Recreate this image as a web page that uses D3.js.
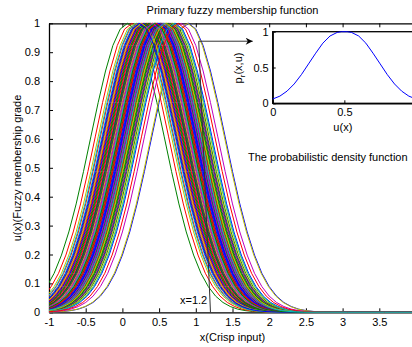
<!DOCTYPE html>
<html><head><meta charset="utf-8">
<script src="https://cdn.jsdelivr.net/npm/d3@7/dist/d3.min.js"></script>
<style>
html,body{margin:0;padding:0;background:#fff;}
svg{display:block;font-family:"Liberation Sans",Arial,sans-serif;}
</style></head>
<body><svg id="c" width="412" height="347"></svg>
<script>
// ---- data ----
// centres of the plotted membership functions (in plotting order)
const centres = [0.90,0.07,0.13,0.42,0.35,0.89,0.28,0.55,0.61,0.47,0.22,0.38,0.17,0.50,
0.66,0.31,0.44,0.58,0.25,0.70,0.52,0.36,0.63,0.20,0.45,0.40,0.57,0.33,0.49,0.68,0.27,
0.54,0.43,0.60,0.37,0.72,0.46,0.30,0.53,0.64,0.39,0.24,0.51,0.59,0.34,0.48,0.80,0.41,
0.56,0.29,0.62,0.45,0.19,0.52,0.67,0.38,0.48,0.32,0.58,0.43,0.55,0.26,0.65,0.50,0.36,
0.47,0.71,0.41,0.60,0.53,0.23,0.44,0.76,0.57];
// membership profile: grade vs distance from centre (symmetric)
const profileDx = [0,0.1,0.2,0.3,0.4,0.5,0.6,0.7,0.8,0.9,1.0,1.1,1.2,1.3,1.4,1.5,1.6,1.7,1.8,1.9,2.0,2.5,3.0,3.5,4.0];
const profileU  = [1,0.98,0.923,0.835,0.726,0.607,0.487,0.375,0.278,0.198,0.135,0.089,0.056,0.034,0.020,0.011,0.006,0.003,0.0016,0.0007,0.0003,0,0,0,0];
const colors = ["#0000ff","#008000","#ff0000","#00bfbf","#bf00bf","#bfbf00","#404040"];
const xTicks = [-1,-0.5,0,0.5,1,1.5,2,2.5,3,3.5,4];
const xTickLabels = ["-1","-0.5","0","0.5","1","1.5","2","2.5","3","3.5",""];
const yTicks = [0,0.1,0.2,0.3,0.4,0.5,0.6,0.7,0.8,0.9,1];
const yTickLabels = ["0","0.1","0.2","0.3","0.4","0.5","0.6","0.7","0.8","0.9","1"];
// inset: probabilistic density function
const insetU = [0,0.05,0.1,0.15,0.2,0.25,0.3,0.35,0.4,0.45,0.48,0.52,0.55,0.6,0.65,0.7,0.75,0.8,0.85,0.9,0.95,1];
const insetP = [0.06,0.10,0.17,0.27,0.40,0.55,0.70,0.84,0.94,0.99,1,1,0.99,0.94,0.84,0.70,0.55,0.40,0.27,0.17,0.10,0.06];
const insetTicks = [0,0.5,1];
const insetXLabels = ["0","0.5",""];
const insetYLabels = ["0","0.5","1"];
const markX = 1.2;
const arrowTop = {x:1.04, y:0.938};

// ---- layout ----
const svg = d3.select("#c");
const font = 11;
const x = d3.scaleLinear().domain([-1,4]).range([49,416]);
const y = d3.scaleLinear().domain([0,1]).range([312.3,23.3]);

svg.append("defs").append("clipPath").attr("id","clip")
  .append("rect").attr("x",49).attr("y",20).attr("width",367).attr("height",293);

const lab = (ticks, labels) => d => labels[ticks.indexOf(d)];

// axes box
const ax = svg.append("g");
const xAxB = ax.append("g").attr("transform","translate(0,312.3)")
  .call(d3.axisBottom(x).tickValues(xTicks).tickSizeInner(-4).tickSizeOuter(0).tickPadding(7).tickFormat(lab(xTicks,xTickLabels)));
const xAxT = ax.append("g").attr("transform","translate(0,23.3)")
  .call(d3.axisTop(x).tickValues(xTicks).tickSizeInner(-4).tickSizeOuter(0).tickFormat(""));
const yAxL = ax.append("g").attr("transform","translate(49,0)")
  .call(d3.axisLeft(y).tickValues(yTicks).tickSizeInner(-4).tickSizeOuter(0).tickPadding(9).tickFormat(lab(yTicks,yTickLabels)));
[xAxB,xAxT,yAxL].forEach(g=>{
  g.selectAll("path.domain").attr("stroke","#000").attr("stroke-width",1.3);
  g.selectAll(".tick line").attr("stroke","#000");
  g.selectAll("text").attr("font-size",font).attr("fill","#000").attr("font-family",'"Liberation Sans",Arial,sans-serif');
});
xAxB.selectAll("text").attr("dy","0.71em").attr("y",6);

// curves
const line = d3.line().x(d=>x(d[0])).y(d=>y(d[1]));
const cg = svg.append("g").attr("clip-path","url(#clip)");
centres.forEach((c,i)=>{
  const pts = [];
  for(let k=profileDx.length-1;k>0;k--) pts.push([c-profileDx[k],profileU[k]]);
  for(let k=0;k<profileDx.length;k++) pts.push([c+profileDx[k],profileU[k]]);
  cg.append("path").attr("d",line(pts)).attr("fill","none")
    .attr("stroke",colors[i%colors.length]).attr("stroke-width",1);
});

// annotation line & arrow
svg.append("defs").append("marker").attr("id","ah").attr("viewBox","0 0 10 10")
  .attr("refX",10).attr("refY",5).attr("markerWidth",11).attr("markerHeight",7)
  .attr("markerUnits","userSpaceOnUse").attr("orient","auto")
  .append("path").attr("d","M0,0 L10,5 L0,10 L3,5 Z").attr("fill","#000");
const ix = d3.scaleLinear().domain([0,1]).range([272.7,416]);
const iy = d3.scaleLinear().domain([0,1]).range([103.3,31.7]);
svg.append("path")
  .attr("d",`M${x(markX)},${y(0)} L${x(arrowTop.x)},${y(arrowTop.y)} L${ix(0)-20},${y(arrowTop.y)}`)
  .attr("fill","none").attr("stroke","#333").attr("stroke-width",1).attr("marker-end","url(#ah)");
svg.append("text").attr("x",180).attr("y",303.5).attr("font-size",font).text("x=1.2");

// title & labels
svg.append("text").attr("x",232.5).attr("y",14).attr("text-anchor","middle").attr("font-size",font)
  .text("Primary fuzzy membership function");
svg.append("text").attr("x",232.5).attr("y",340.5).attr("text-anchor","middle").attr("font-size",font)
  .text("x(Crisp input)");
svg.append("text").attr("transform","translate(20.5,168) rotate(-90)").attr("text-anchor","middle").attr("font-size",font)
  .text("u(x)(Fuzzy membership grade");

// inset
const ig = svg.append("g");
ig.append("rect").attr("x",ix(0)).attr("y",iy(1)).attr("width",ix(1)-ix(0)).attr("height",iy(0)-iy(1))
  .attr("fill","#fff").attr("stroke","#000").attr("stroke-width",1.3);
const iB = ig.append("g").attr("transform",`translate(0,${iy(0)})`)
  .call(d3.axisBottom(ix).tickValues(insetTicks).tickSizeInner(-3).tickSizeOuter(0).tickPadding(5).tickFormat(lab(insetTicks,insetXLabels)));
const iL = ig.append("g").attr("transform",`translate(${ix(0)},0)`)
  .call(d3.axisLeft(iy).tickValues(insetTicks).tickSizeInner(-3).tickSizeOuter(0).tickPadding(4).tickFormat(lab(insetTicks,insetYLabels)));
[iB,iL].forEach(g=>{
  g.selectAll("path.domain").attr("stroke","#000").attr("stroke-width",1.3);
  g.selectAll(".tick line").attr("stroke","#000");
  g.selectAll("text").attr("font-size",font).attr("fill","#000").attr("font-family",'"Liberation Sans",Arial,sans-serif');
});
ig.append("path").attr("d",d3.line().x((d,i)=>ix(insetU[i])).y(d=>iy(d))(insetP))
  .attr("fill","none").attr("stroke","#0000ff").attr("stroke-width",1);
ig.append("text").attr("x",ix(0.5)-1.5).attr("y",130.5).attr("text-anchor","middle").attr("font-size",font).text("u(x)");
const pl = ig.append("text").attr("transform","translate(241.5,68) rotate(-90)").attr("text-anchor","middle").attr("font-size",font);
pl.append("tspan").text("p");
pl.append("tspan").attr("font-size",8).attr("dy",3).text("r");
pl.append("tspan").attr("dy",-3).text("(x,u)");
svg.append("text").attr("x",248).attr("y",160.5).attr("font-size",font).text("The probabilistic density function");
</script></body></html>
